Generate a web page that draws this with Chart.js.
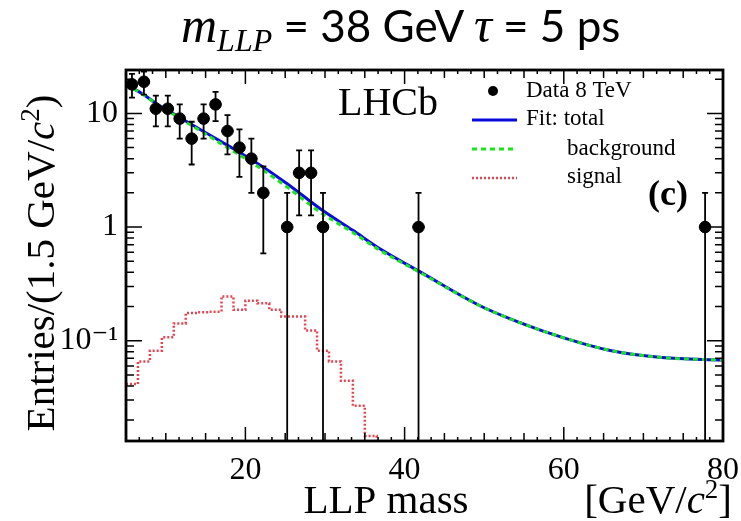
<!DOCTYPE html>
<html><head><meta charset="utf-8">
<script src="https://cdn.jsdelivr.net/npm/chart.js@4.4.0/dist/chart.umd.min.js"></script>
<style>
html,body{margin:0;padding:0;background:#fff;}
#wrap{position:relative;width:741px;height:521px;overflow:hidden;}
#c{position:absolute;left:0;top:0;}
#title{position:absolute;left:181px;top:0px;white-space:nowrap;font-family:Lato,'Open Sans',sans-serif;font-size:44px;line-height:50px;color:#000;}
#title .mi{font-family:'Liberation Serif',serif;font-style:italic;font-size:50px;}
#title sub{font-family:'Liberation Serif',serif;font-style:italic;font-size:32px;vertical-align:-9px;line-height:0;}
</style></head><body>
<div id="wrap">
<canvas id="c" width="741" height="521"></canvas>
<div id="title"><span class="mi">m</span><sub>LLP</sub> = 38 GeV <span class="mi">τ</span> = 5 ps</div>
</div>
<script>
// ---- data ----
const binCenters = [5.75, 7.25, 8.75, 10.25, 11.75, 13.25, 14.75, 16.25, 17.75, 19.25, 20.75, 22.25, 25.25, 26.75, 28.25, 29.75, 41.75, 77.75];
const dataCounts = [18, 19, 11, 11, 9, 6, 9, 12, 7, 5, 4, 2, 1, 3, 3, 1, 1, 1];

const fitX     = [5, 7.3, 8.75, 10.2, 11.8, 14.8, 17.7, 21, 25.2, 29.4, 33.5, 36.9, 41.9, 49.4, 54.4, 59.8, 66, 72.3, 80];
const fitTotal = [18.0, 14.5, 12.3, 10.7, 9.16, 6.9, 5.26, 3.83, 2.42, 1.45, 0.935, 0.644, 0.405, 0.204, 0.145, 0.107, 0.0816, 0.0712, 0.0675];
const fitBkg   = [17.96, 14.43, 12.2, 10.6, 9.02, 6.72, 5.02, 3.61, 2.26, 1.35, 0.895, 0.625, 0.40, 0.204, 0.145, 0.107, 0.0816, 0.0712, 0.0675];

const sigEdges = [5, 6.5, 8, 9.5, 11, 12.5, 14, 15.5, 17, 18.5, 20, 21.5, 23, 24.5, 26, 27.5, 29, 30.5, 32, 33.5, 35, 36.5, 38];
const sigVals  = [0.0415, 0.0657, 0.0816, 0.107, 0.142, 0.175, 0.178, 0.18, 0.245, 0.187, 0.225, 0.213, 0.187, 0.163, 0.163, 0.123, 0.0816, 0.0657, 0.0444, 0.0267, 0.0145, 0.008];

const xTickValues = [20, 40, 60, 80];
const xTickLabels = ['20', '40', '60', '80'];
const yTickValues = [0.1, 1, 10];
const yTickLabels = ['10\u207B\u00B9', '1', '10'];

const legendLabels = ['Data 8 TeV', 'Fit: total', 'background', 'signal'];

// ---- styling ----
const SERIF = "'Liberation Serif', 'DejaVu Serif', serif";
const BLUE = '#0a0ae0', GREEN = '#19e619', RED = '#e8434f';

function richText(ctx, parts, x, y, align) {
  let w = 0;
  parts.forEach(p => { ctx.font = p.font; p.w = ctx.measureText(p.t).width; w += p.w; });
  let cx = align === 'center' ? x - w / 2 : (align === 'right' ? x - w : x);
  ctx.textAlign = 'left';
  parts.forEach(p => { ctx.font = p.font; ctx.fillText(p.t, cx, y + (p.dy || 0)); cx += p.w; });
}

const rootPlugin = {
  id: 'rootStyle',
  afterDatasetsDraw(chart) {
    const {ctx, chartArea: a, scales: {x, y}} = chart;
    ctx.save();
    ctx.beginPath(); ctx.rect(a.left, a.top, a.right - a.left, a.bottom - a.top); ctx.clip();
    ctx.strokeStyle = '#000'; ctx.lineWidth = 1.8;
    binCenters.forEach((c, i) => {
      const n = dataCounts[i], e = Math.sqrt(n);
      const px = x.getPixelForValue(c);
      const hi = y.getPixelForValue(n + e);
      const lo = y.getPixelForValue(Math.max(n - e, 1e-5));
      const py = y.getPixelForValue(n);
      ctx.beginPath();
      ctx.moveTo(px, hi); ctx.lineTo(px, lo);
      ctx.moveTo(px - 3, hi); ctx.lineTo(px + 3, hi);
      if (n - e > 0) { ctx.moveTo(px - 3, lo); ctx.lineTo(px + 3, lo); }
      ctx.moveTo(x.getPixelForValue(c - 0.75), py); ctx.lineTo(x.getPixelForValue(c + 0.75), py);
      ctx.stroke();
    });
    ctx.restore();
  },
  afterDraw(chart) {
    const {ctx, chartArea: a, scales: {x, y}} = chart;
    ctx.save();
    ctx.strokeStyle = '#000';
    // ticks on x (bottom + top)
    ctx.lineWidth = 1.5;
    ctx.beginPath();
    for (let k = 0; k <= 45; k++) {
      const v = 5 + k * 5 / 3;
      if (v > 80.01) break;
      const px = x.getPixelForValue(v);
      let len = 4;
      if (Math.abs(v % 20) < 0.01 || Math.abs(v % 20 - 20) < 0.01) len = 14;
      else if (Math.abs(v % 5) < 0.01 || Math.abs(v % 5 - 5) < 0.01) len = 8;
      ctx.moveTo(px, a.bottom); ctx.lineTo(px, a.bottom - len);
      ctx.moveTo(px, a.top); ctx.lineTo(px, a.top + len);
    }
    // ticks on y (left + right)
    for (let d = -2; d <= 1; d++) {
      for (let m = 1; m <= 9; m++) {
        const v = m * Math.pow(10, d);
        if (v < y.min || v > y.max) continue;
        const py = y.getPixelForValue(v);
        const len = m === 1 ? 16 : 8;
        ctx.moveTo(a.left, py); ctx.lineTo(a.left + len, py);
        ctx.moveTo(a.right, py); ctx.lineTo(a.right - len, py);
      }
    }
    ctx.stroke();
    // frame
    ctx.lineWidth = 2.8;
    ctx.strokeRect(a.left, a.top, a.right - a.left, a.bottom - a.top);

    // legend
    ctx.fillStyle = '#000';
    ctx.textBaseline = 'middle';
    ctx.font = '23px ' + SERIF;
    ctx.beginPath(); ctx.arc(493, 91, 5, 0, Math.PI * 2); ctx.fill();
    ctx.fillText(legendLabels[0], 526, 91);
    ctx.lineWidth = 3;
    ctx.strokeStyle = BLUE; ctx.beginPath(); ctx.moveTo(472, 120); ctx.lineTo(517, 120); ctx.stroke();
    ctx.fillText(legendLabels[1], 526, 119);
    ctx.strokeStyle = GREEN; ctx.setLineDash([5, 4]); ctx.beginPath(); ctx.moveTo(472, 149); ctx.lineTo(517, 149); ctx.stroke();
    ctx.fillText(legendLabels[2], 567, 149);
    ctx.lineWidth = 2.5;
    ctx.strokeStyle = RED; ctx.setLineDash([2, 2]); ctx.beginPath(); ctx.moveTo(472, 178); ctx.lineTo(517, 178); ctx.stroke();
    ctx.setLineDash([]);
    ctx.fillText(legendLabels[3], 567, 177);

    // LHCb and (c)
    ctx.textBaseline = 'alphabetic';
    ctx.textAlign = 'left';
    ctx.font = '40px ' + SERIF;
    ctx.fillText('LHCb', 338, 115);
    ctx.font = 'bold 36px ' + SERIF;
    ctx.textAlign = 'center';
    ctx.fillText('(c)', 668, 205);

    // x axis title
    ctx.font = '41px ' + SERIF;
    ctx.textAlign = 'center';
    ctx.fillText('LLP mass', 386, 513);
    richText(ctx, [
      {t: '[GeV/', font: '41px ' + SERIF},
      {t: 'c', font: 'italic 41px ' + SERIF},
      {t: '2', font: '27px ' + SERIF, dy: -15},
      {t: ']', font: '41px ' + SERIF}
    ], 732, 513, 'right');

    // y axis title (rotated)
    ctx.translate(54, 263);
    ctx.rotate(-Math.PI / 2);
    richText(ctx, [
      {t: 'Entries/(1.5 GeV/', font: '41px ' + SERIF},
      {t: 'c', font: 'italic 41px ' + SERIF},
      {t: '2', font: '27px ' + SERIF, dy: -15},
      {t: ')', font: '41px ' + SERIF}
    ], 0, 0, 'center');
    ctx.restore();
  }
};

const ctx = document.getElementById('c').getContext('2d');
new Chart(ctx, {
  type: 'line',
  data: {
    datasets: [
      { label: legendLabels[0], data: binCenters.map((c, i) => ({x: c, y: dataCounts[i]})),
        showLine: false, pointRadius: 5.8, pointBackgroundColor: '#000', pointBorderColor: '#000', order: 0 },
      { label: legendLabels[2], data: fitX.map((c, i) => ({x: c, y: fitBkg[i]})),
        borderColor: GREEN, borderWidth: 3, borderDash: [5, 4], pointRadius: 0, cubicInterpolationMode: 'monotone', fill: false, order: 1 },
      { label: legendLabels[1], data: fitX.map((c, i) => ({x: c, y: fitTotal[i]})),
        borderColor: BLUE, borderWidth: 3, pointRadius: 0, cubicInterpolationMode: 'monotone', fill: false, order: 2 },
      { label: legendLabels[3], data: sigEdges.map((e, i) => ({x: e, y: sigVals[Math.min(i, sigVals.length - 1)]})),
        borderColor: RED, borderWidth: 2.5, borderDash: [2, 2], pointRadius: 0, stepped: 'before', fill: false, order: 3 }
    ]
  },
  options: {
    responsive: false, animation: false, devicePixelRatio: 1,
    layout: {padding: {left: 0, right: 18, top: 70, bottom: 0}},
    plugins: {legend: {display: false}, tooltip: {enabled: false}, title: {display: false}},
    scales: {
      x: {
        type: 'linear', min: 5, max: 80,
        grid: {display: false, drawTicks: false}, border: {display: false},
        afterBuildTicks: s => { s.ticks = xTickValues.map(v => ({value: v})); },
        afterFit: s => { s.height = 80; s.paddingLeft = 0; s.paddingRight = 0; },
        ticks: {padding: 10, color: '#000', font: {family: SERIF, size: 32}, maxRotation: 0, autoSkip: false,
          callback: v => { const i = xTickValues.indexOf(v); return i >= 0 ? xTickLabels[i] : ''; }}
      },
      y: {
        type: 'logarithmic', min: 0.0131, max: 24.1,
        grid: {display: false, drawTicks: false}, border: {display: false},
        afterBuildTicks: s => { s.ticks = yTickValues.map(v => ({value: v})); },
        afterFit: s => { s.width = 126; s.paddingTop = 0; s.paddingBottom = 0; },
        ticks: {padding: 8, color: '#000', font: {family: SERIF, size: 32}, autoSkip: false,
          callback: v => { const i = yTickValues.findIndex(t => Math.abs(t - v) < 1e-9); return i >= 0 ? yTickLabels[i] : ''; }}
      }
    }
  },
  plugins: [rootPlugin]
});
</script>
</body></html>
